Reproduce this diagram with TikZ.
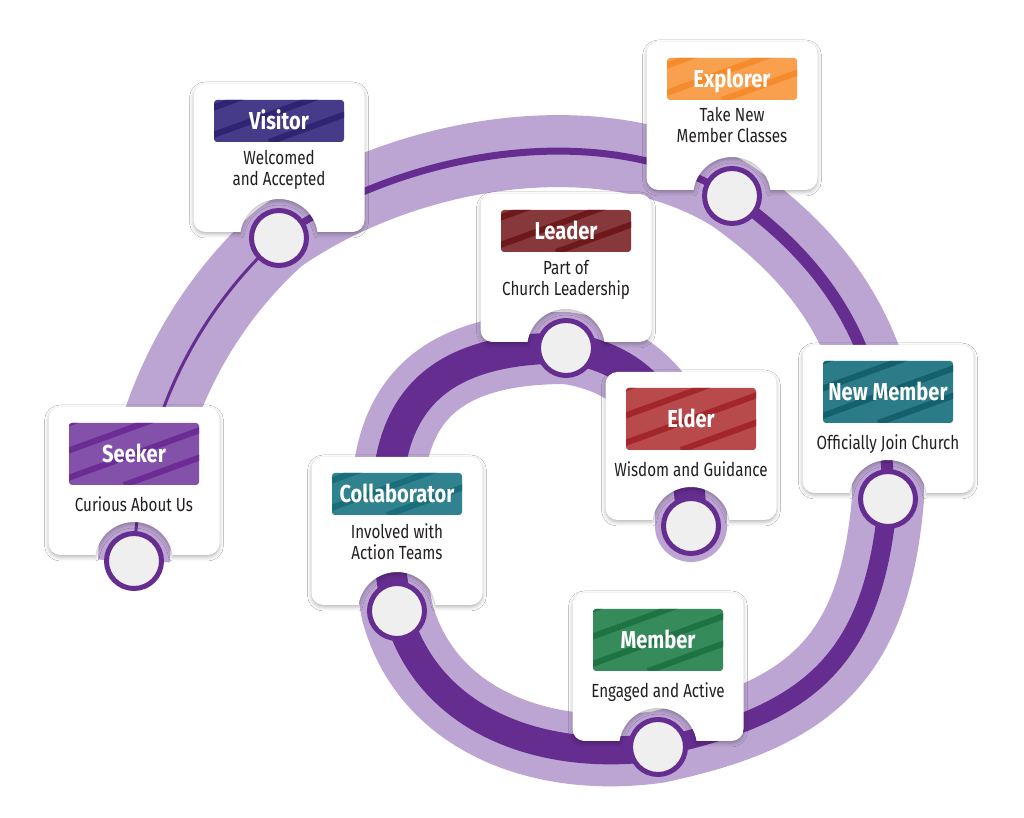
\documentclass[tikz,border=0pt]{standalone}
\usepackage{fontspec}
\setmainfont{Fira Sans}[FakeStretch=0.8]
\newfontfamily\titlefont{Fira Sans}[FakeStretch=0.82]
\usetikzlibrary{shadows.blur}
\definecolor{bandlight}{HTML}{BCA5D2}
\definecolor{banddark}{HTML}{662D91}
\definecolor{stopgray}{HTML}{EFEFEF}
\definecolor{textdark}{HTML}{231F20}
\definecolor{seekerlight}{HTML}{8351A9}
\definecolor{seekerdark}{HTML}{6B2D94}
\definecolor{visitorlight}{HTML}{463B88}
\definecolor{visitordark}{HTML}{2E2472}
\definecolor{explorerlight}{HTML}{F8A04E}
\definecolor{explorerdark}{HTML}{F58B2C}
\definecolor{leaderlight}{HTML}{87383A}
\definecolor{leaderdark}{HTML}{6D181B}
\definecolor{elderlight}{HTML}{B84A4B}
\definecolor{elderdark}{HTML}{A3272A}
\definecolor{newmemberlight}{HTML}{2B7C88}
\definecolor{newmemberdark}{HTML}{14606D}
\definecolor{collablight}{HTML}{30828E}
\definecolor{collabdark}{HTML}{1A6D7A}
\definecolor{memberlight}{HTML}{368B5B}
\definecolor{memberdark}{HTML}{1E7342}
\begin{document}
\begin{tikzpicture}
			[x=1pt,y=1pt,
			band/.style={draw=bandlight,line width=72pt,line join=round},
			track/.style={draw=banddark},
			card/.pic={\path[fill=white,blur shadow={shadow xshift=0pt,shadow yshift=-2pt,shadow blur radius=4pt,shadow opacity=30}]
				(-85.5,-62)--(-85.5,62)arc(180:90:12pt)--(73.5,74)
				arc(90:0:12pt)--(85.5,-62)arc(0:-90:12pt)
				--(38.54,-74)arc(8.85:171.15:39pt)
				--(-73.5,-74)arc(270:180:12pt)--cycle;},
			banner/.style={rectangle,rounded corners=3pt,minimum width=130pt,inner sep=0pt,text=white,
				font=\titlefont\bfseries\fontsize{24.5}{26}\selectfont,text height=16.5pt,text depth=0pt},
			tall/.style={minimum height=62pt},
			short/.style={minimum height=42pt},
			stripes/.style 2 args={fill=#1,path picture={\foreach \s in {-170,-95,-20,55}
				\draw[#2,line width=6pt]([xshift=\s pt]path picture bounding box.south west)--++(20:220pt);}},
			desc/.style={font=\fontsize{19}{21}\selectfont,align=center,text=textdark,inner sep=0pt,anchor=base},
			stop/.style={circle,draw=banddark,line width=5pt,fill=stopgray,minimum size=55pt,inner sep=0pt}]
			\useasboundingbox[fill=white](0,0)rectangle(1024,818);
			\coordinate (seeker-pt) at (134,257);
			\coordinate (visitor-pt) at (279,580);
			\coordinate (explorer-pt) at (732,622);
			\coordinate (newmember-pt) at (888,319);
			\coordinate (member-pt) at (658,71);
			\coordinate (collab-pt) at (397,207);
			\coordinate (leader-pt) at (566,470);
			\coordinate (elder-pt) at (691,292);
			% the spiral band
			\draw[band](seeker-pt)to[out=88,in=222,out looseness=1.1,in looseness=0.7](visitor-pt)
				to[out=35,in=148,looseness=0.85](explorer-pt)to[out=-35,in=90](newmember-pt)
				to[out=-95,in=12,looseness=1.2](member-pt)to[out=188,in=-75](collab-pt)
				to[out=100,in=180,looseness=1.4](leader-pt);
			\draw[band,line cap=round](leader-pt)to[out=-8,in=90,looseness=1.1](elder-pt);
			% the track grows thicker stage by stage
			\draw[track,line width=3pt](seeker-pt)to[out=88,in=222,out looseness=1.1,in looseness=0.7](visitor-pt);
			\draw[track,line width=7pt](visitor-pt)to[out=35,in=148,looseness=0.85](explorer-pt);
			\draw[track,line width=12pt](explorer-pt)to[out=-35,in=90](newmember-pt);
			\draw[track,line width=19pt](newmember-pt)to[out=-95,in=12,looseness=1.2](member-pt);
			\draw[track,line width=28pt](member-pt)to[out=188,in=-75](collab-pt);
			\draw[track,line width=31pt](collab-pt)to[out=100,in=180,looseness=1.4](leader-pt);
			\draw[track,line width=31pt](leader-pt)to[out=-8,in=90,looseness=1.1](elder-pt);
			% cards
			\pic at (134,337) {card};
			\pic at (279,660) {card};
			\pic at (732,702) {card};
			\pic at (888,399) {card};
			\pic at (658,151) {card};
			\pic at (397,287) {card};
			\pic at (566,550) {card};
			\pic at (691,372) {card};
			\node[banner,tall,stripes={seekerlight}{seekerdark},name=seeker-title]at(134,364){Seeker};
			\node[banner,short,stripes={visitorlight}{visitordark},name=visitor-title]at(279,697){Visitor};
			\node[banner,short,stripes={explorerlight}{explorerdark},name=explorer-title]at(732,739){Explorer};
			\node[banner,tall,stripes={newmemberlight}{newmemberdark},name=newmember-title]at(888,426){New Member};
			\node[banner,tall,stripes={memberlight}{memberdark},name=member-title]at(658,178){Member};
			\node[banner,short,stripes={collablight}{collabdark},name=collab-title]at(397,324){Collaborator};
			\node[banner,short,stripes={leaderlight}{leaderdark},name=leader-title]at(566,587){Leader};
			\node[banner,tall,stripes={elderlight}{elderdark},name=elder-title]at(691,399){Elder};
			\node[desc,name=seeker-text]at(134,306){Curious About Us};
			\node[desc,name=visitor-text]at(279,632){Welcomed\\and Accepted};
			\node[desc,name=explorer-text]at(732,675){Take New\\Member Classes};
			\node[desc,name=newmember-text]at(888,368){Officially Join Church};
			\node[desc,name=member-text]at(658,120){Engaged and Active};
			\node[desc,name=collab-text]at(397,258){Involved with\\Action Teams};
			\node[desc,name=leader-text]at(566,522){Part of\\Church Leadership};
			\node[desc,name=elder-text]at(691,341){Wisdom and Guidance};
			% stops
			\node[stop,name=seeker]at(seeker-pt){};
			\node[stop,name=visitor]at(visitor-pt){};
			\node[stop,name=explorer]at(explorer-pt){};
			\node[stop,name=newmember]at(newmember-pt){};
			\node[stop,name=member]at(member-pt){};
			\node[stop,name=collab]at(collab-pt){};
			\node[stop,name=leader]at(leader-pt){};
			\node[stop,name=elder]at(elder-pt){};
		\end{tikzpicture}
\end{document}
